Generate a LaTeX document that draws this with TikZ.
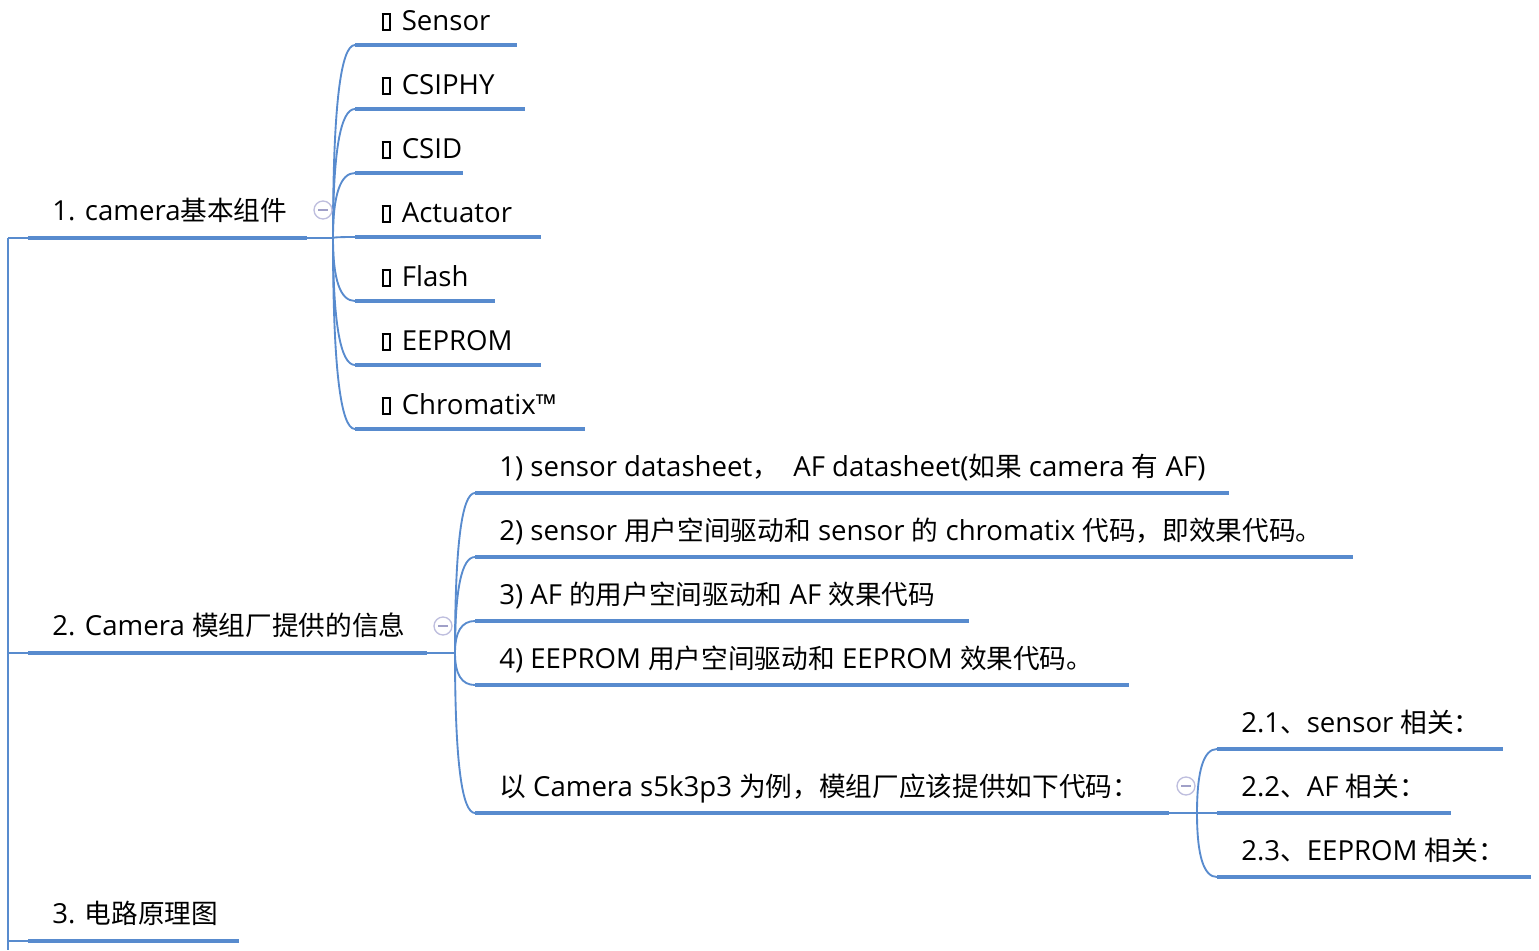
\documentclass[tikz,border=0pt]{standalone}
\usepackage{fontspec}
\setmainfont{Open Sans}[Scale=1.045]
\newfontfamily\cjkf{Noto Sans CJK SC}[Scale=1.01]
\newcommand\cj[1]{{\cjkf #1}}
\newcommand\tofu{\hspace{1pt}\raisebox{0.4pt}{\setlength\fboxsep{0pt}\setlength\fboxrule{1.5pt}\fbox{\rule{0pt}{10.8pt}\hspace{4.2pt}}}\hspace{2.6pt}}
\definecolor{linec}{RGB}{88,139,206}
\definecolor{circc}{RGB}{190,190,222}
\definecolor{minusc}{RGB}{160,160,200}
\begin{document}
\begin{tikzpicture}[x=0.75pt,y=-0.75pt,
  txt/.style={anchor=base west,inner sep=0pt,font=\fontsize{19.8pt}{22pt}\selectfont},
  uline/.style={linec,line width=3pt},
  thinl/.style={linec,line width=1.4pt},
  curv/.style={linec,line width=1.4pt},
  foldc/.style={circle,draw=circc,line width=1pt,minimum size=13.5pt,inner sep=0pt,fill=white}]
\useasboundingbox (0,0) rectangle (1539,950);
% root
\coordinate (r0) at (8,238);
\coordinate (r1) at (8,950);
\draw[thinl] (r0) -- (r1);
% topic 1
\coordinate (a1s) at (28,238); \coordinate (a1e) at (307,238);
\node[txt] (a1) at (52,220) {1. camera\cj{基本组件}};
\coordinate (b1) at (333,238);
\draw[thinl] (r0) -- (a1s);
\draw[uline] (a1s) -- (a1e);
\draw[thinl] (a1e) -- (b1);
\foreach \i/\y/\e/\t in {1/45/517/Sensor,2/109/525/CSIPHY,3/173/463/CSID,4/237/541/Actuator,5/301/495/Flash,6/365/541/EEPROM,7/429/585/Chromatix™}{
  \coordinate (c\i s) at (355,\y); \coordinate (c\i e) at (\e,\y);
  \node[txt] (c\i) at (380,\y-15) {\tofu\ \t};
  \draw[curv] (b1) .. controls (333,{238+2/3*(\y-238)}) and ({333+22/3},\y) .. (c\i s);
  \draw[uline] (c\i s) -- (c\i e);
}
\node[foldc] (f1) at (323,210) {};
\draw[minusc,line width=1pt] ([xshift=-3.5pt]f1.center) -- ([xshift=3.5pt]f1.center);
% topic 2
\coordinate (a2s) at (28,653); \coordinate (a2e) at (427,653);
\node[txt] (a2) at (52,635) {2. Camera \cj{模组厂提供的信息}};
\coordinate (b2) at (455,653);
\draw[thinl] (r0 |- a2s) -- (a2s);
\draw[uline] (a2s) -- (a2e);
\draw[thinl] (a2e) -- (b2);
\foreach \i/\y/\e/\t in {1/493/1229/{1) sensor datasheet\cj{，}\ \ AF datasheet(\cj{如果} camera \cj{有} AF)},2/557/1353/{2) sensor \cj{用户空间驱动和} sensor \cj{的} chromatix \cj{代码，即效果代码。}},3/621/969/{3) AF \cj{的用户空间驱动和} AF \cj{效果代码}},4/685/1129/{4) EEPROM \cj{用户空间驱动和} EEPROM \cj{效果代码。}},5/813/1169/{\cj{以} Camera s5k3p3 \cj{为例，模组厂应该提供如下代码：}}}{
  \coordinate (d\i s) at (475,\y); \coordinate (d\i e) at (\e,\y);
  \node[txt] (d\i) at (499,\y-17) {\t};
  \draw[curv] (b2) .. controls (455,{653+2/3*(\y-653)}) and ({455+20/3},\y) .. (d\i s);
  \draw[uline] (d\i s) -- (d\i e);
}
\node[foldc] (f2) at (443,626) {};
\draw[minusc,line width=1pt] ([xshift=-3.5pt]f2.center) -- ([xshift=3.5pt]f2.center);
% sub of d5
\coordinate (b3) at (1197,813);
\draw[thinl] (d5e) -- (b3);
\foreach \i/\y/\e/\t in {1/749/1503/{2.1\cj{、}sensor \cj{相关：}},2/813/1451/{2.2\cj{、}AF \cj{相关：}},3/877/1531/{2.3\cj{、}EEPROM \cj{相关：}}}{
  \coordinate (g\i s) at (1217,\y); \coordinate (g\i e) at (\e,\y);
  \node[txt] (g\i) at (1241,\y-17) {\t};
  \draw[curv] (b3) .. controls (1197,{813+2/3*(\y-813)}) and ({1197+20/3},\y) .. (g\i s);
  \draw[uline] (g\i s) -- (g\i e);
}
\node[foldc] (f3) at (1186,786) {};
\draw[minusc,line width=1pt] ([xshift=-3.5pt]f3.center) -- ([xshift=3.5pt]f3.center);
% topic 3
\coordinate (a3s) at (28,941); \coordinate (a3e) at (239,941);
\node[txt] (a3) at (52,923) {3. \cj{电路原理图}};
\draw[thinl] (r0 |- a3s) -- (a3s);
\draw[uline] (a3s) -- (a3e);
\end{tikzpicture}
\end{document}
